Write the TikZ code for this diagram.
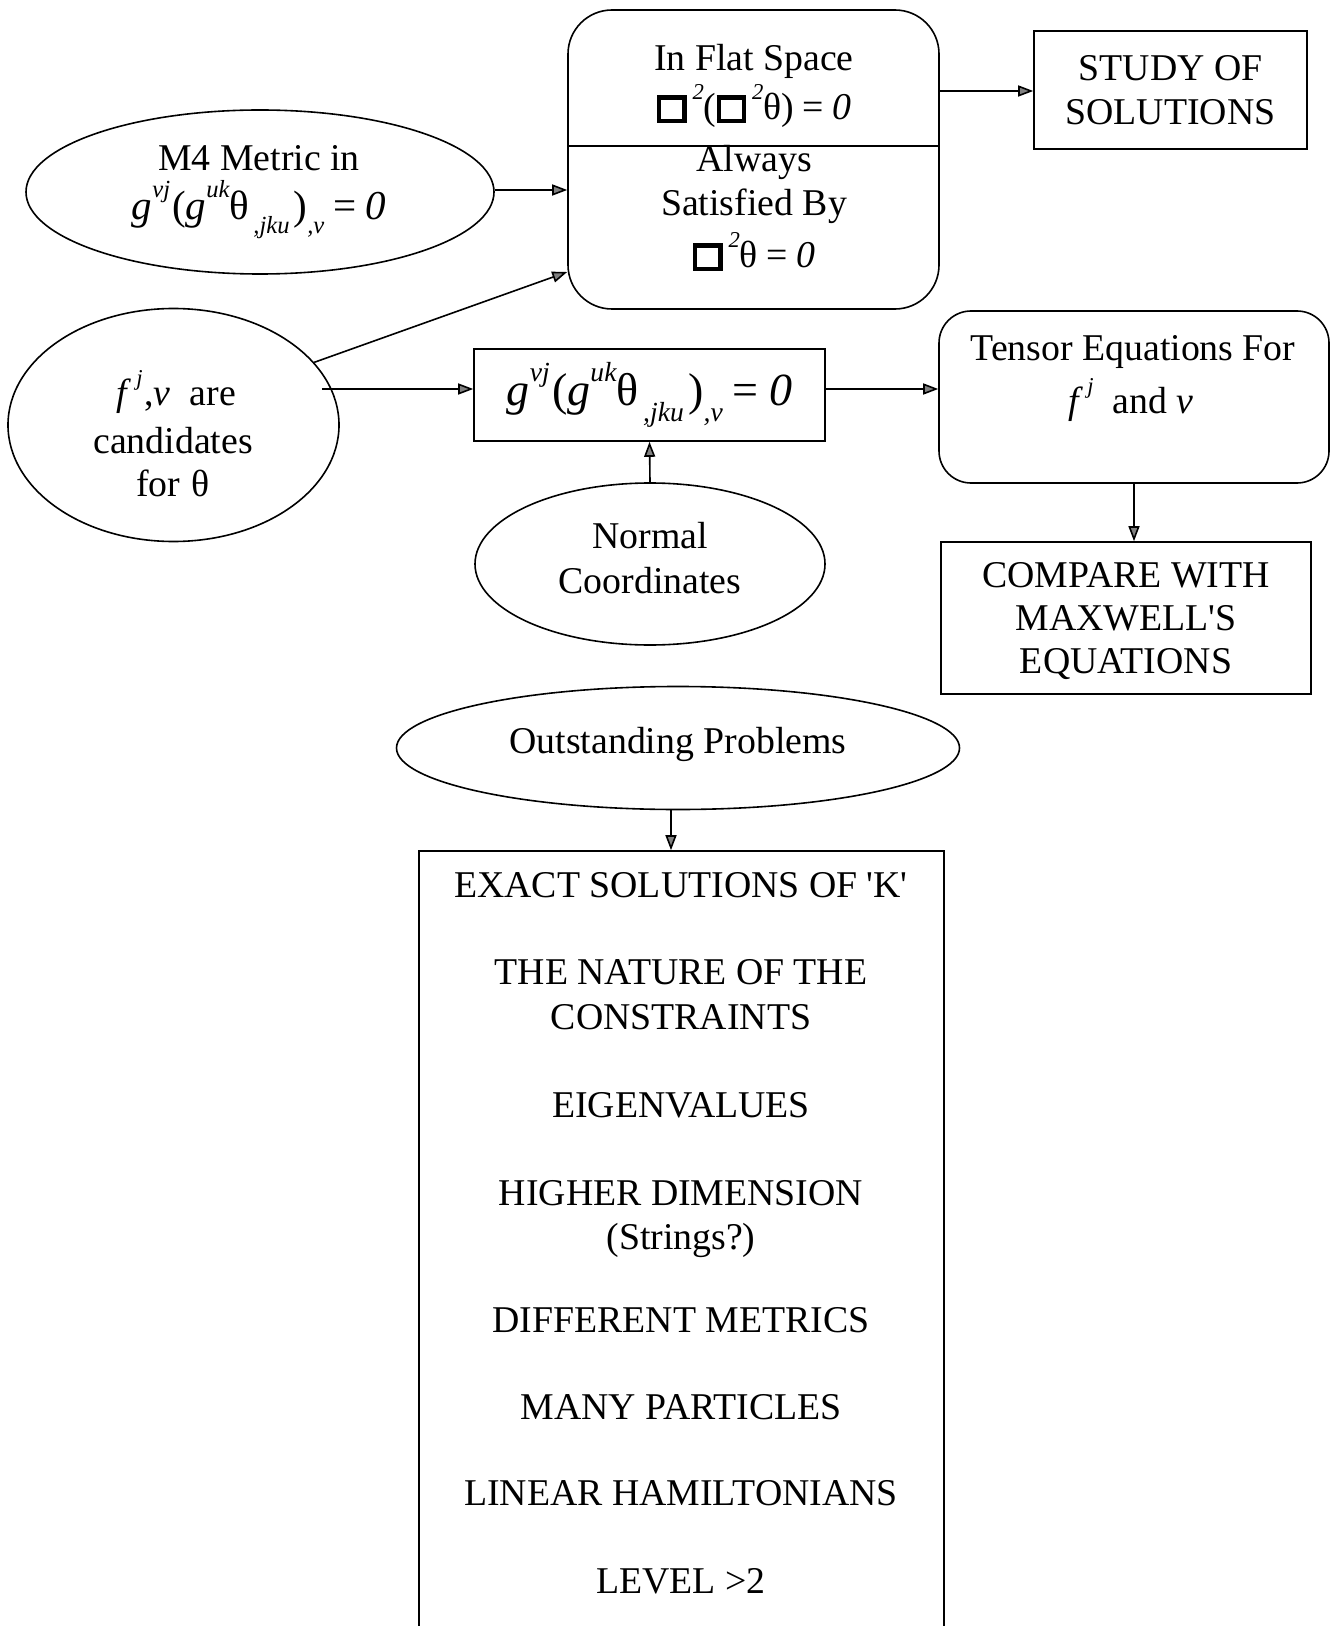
\documentclass[tikz,border=0pt]{standalone}
\usepackage{fontspec}
\setmainfont{Liberation Serif}[Ligatures=TeXOff]
\usetikzlibrary{shapes.geometric,arrows.meta}

% small italic indices, raised or lowered, sized from the current font
\newlength\idxsz
\newcommand{\up}[1]{\setlength\idxsz{0.6em}\raisebox{0.52em}{\fontsize{\idxsz}{\idxsz}\selectfont\itshape #1}}
\newcommand{\dn}[1]{\setlength\idxsz{0.6em}\raisebox{-0.36em}{\fontsize{\idxsz}{\idxsz}\selectfont\itshape #1}}
% d'Alembertian square
\newcommand{\sqop}{\raisebox{0.0em}{\setlength{\fboxsep}{0pt}\setlength{\fboxrule}{0.11em}\fbox{\rule{0pt}{0.52em}\rule{0.56em}{0pt}}}\kern0.16em}
% equals sign with wide spacing
\newcommand{\eqs}{\kern0.22em=\kern0.22em}
% field equation
\newcommand{\geqn}{\textit{g}\up{vj}\kern0.05em(\textit{g}\up{uk}θ\dn{\,,jku}\kern0.1em)\dn{,v}\eqs\textit{0}}

\tikzset{
  every node/.style={font=\fontsize{18.9}{22.3}\selectfont},
  box/.style={draw, line width=0.8pt, inner sep=0pt},
  rbox/.style={box, rounded corners=#1},
  rbox/.default=22pt,
  oval/.style={draw, ellipse, line width=0.8pt, inner sep=0pt, align=center},
  txt/.style={align=center, inner sep=0pt},
  arr/.style={line width=0.8pt,
    -{Triangle[length=7.5pt,width=5.5pt,fill=black!50]}},
}

\begin{document}
\begin{tikzpicture}[x=0.5pt,y=-0.5pt]
\useasboundingbox (0,0) rectangle (1334,1626);

% flat-space box with its divider
\node[rbox, minimum width=185.5pt, minimum height=149.5pt] (flat) at (753.5,159.5) {};
\coordinate (divl) at (flat.west |- 0,146);
\coordinate (divr) at (flat.east |- 0,146);
\draw[line width=0.8pt] (divl) -- (divr);
\node[txt] (flat1) at (754,61) {In Flat Space};
\node[txt] (flat2) at (754,106) {\sqop\up{2}(\sqop\up{2}θ)\eqs\textit{0}};
\node[txt] (flat3) at (754,162) {Always};
\node[txt] (flat4) at (754,206) {Satisfied By};
\node[txt] (flat5) at (754,252) {\sqop\up{2}θ\eqs\textit{0}};

\node[box, align=center, minimum width=136.5pt, minimum height=59pt] (study) at (1170.5,90) {STUDY OF\\SOLUTIONS};

% metric ellipse
\node[oval, minimum width=234pt, minimum height=82pt] (m4) at (260,192) {};
\node[txt] (m4a) at (259,158) {M4 Metric in};
\node[txt, font=\fontsize{20.5}{24}\selectfont] (m4b) at (259,210) {\geqn};

% candidates ellipse
\node[oval, minimum width=165.5pt, minimum height=116.5pt] (fcand) at (173.5,425) {};
\node[txt] (fc1) at (176,392) {\textit{f}\kern0.14em\up{j}\kern0.05em,\textit{v}\ \ are};
\node[txt] (fc2) at (173,441) {candidates};
\node[txt] (fc3) at (173,483) {for \kern0.05emθ};

% general equation box
\node[box, minimum width=175.5pt, minimum height=46pt, font=\fontsize{23}{26}\selectfont] (geq) at (649.5,395) {\geqn};

\node[oval, minimum width=175pt, minimum height=81pt] (normal) at (650,564) {};
\node[txt] (nc) at (650,558) {Normal\\Coordinates};

% tensor equations box
\node[rbox=16pt, minimum width=195pt, minimum height=86pt] (tensor) at (1134,397) {};
\node[txt] (ten1) at (1133,352) {Tensor Equations For};
\node[txt] (ten2) at (1131,400) {\textit{f}\kern0.1em\up{j}\ \ and\ \textit{v}};

\node[box, align=center, minimum width=185pt, minimum height=76pt] (compare) at (1126,618) {};
\node[txt, font=\fontsize{18.9}{21.6}\selectfont] (cmp) at (1126,621) {COMPARE WITH\\MAXWELL'S\\EQUATIONS};

\node[oval, minimum width=281.5pt, minimum height=61.5pt] (outst) at (678,748) {};
\node[txt] (ot) at (678,744) {Outstanding Problems};

% list of open problems, running off the page
\begin{scope}
\clip (0,0) rectangle (1334,1626);
\node[box, minimum width=262.5pt, minimum height=424.5pt] (probs) at (681.5,1275.5) {};
\end{scope}
\node[txt] (p1) at (681,885) {EXACT SOLUTIONS OF 'K'};
\node[txt] (p2) at (681,994.5) {THE NATURE OF THE\\CONSTRAINTS};
\node[txt] (p3) at (681,1105) {EIGENVALUES};
\node[txt] (p4) at (681,1219) {HIGHER DIMENSION\\(Strings?)};
\node[txt] (p5) at (681,1320) {DIFFERENT METRICS};
\node[txt] (p6) at (681,1407) {MANY PARTICLES};
\node[txt] (p7) at (681,1493) {LINEAR HAMILTONIANS};
\node[txt] (p8) at (681,1581) {LEVEL >2};

% connectors
\draw[arr] (flat.east |- 0,91) -- (study.west |- 0,91);
\draw[arr] (m4.east |- 0,190) -- (flat.west |- 0,190);
\coordinate (flatin) at (flat.west |- 0,272);
\draw[arr] (fcand.24) -- (flatin);
\coordinate (fout) at ([xshift=-9pt]fcand.east |- 0,389);
\draw[arr] (fout) -- (geq.west |- 0,389);
\draw[arr] (normal.north) -- (geq.south);
\draw[arr] (geq.east |- 0,389) -- (tensor.west |- 0,389);
\draw[arr] (tensor.south) -- (tensor.south |- compare.north);
\draw[arr] (outst.south -| 671,0) -- (probs.north -| 671,0);
\end{tikzpicture}
\end{document}
